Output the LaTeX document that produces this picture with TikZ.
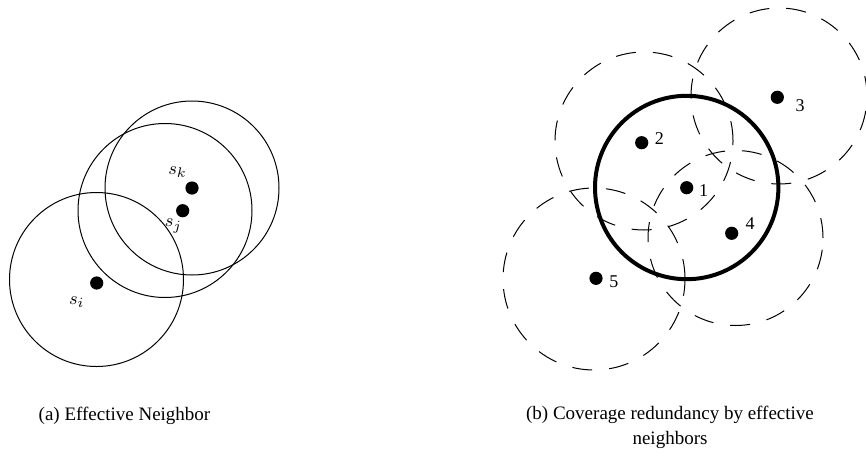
\documentclass[tikz,border=0pt]{standalone}
\usepackage{fontspec}
\setmainfont{Liberation Serif}
\usetikzlibrary{positioning}
\tikzset{
  sensor/.style={circle, fill=black, inner sep=0pt, minimum size=6.6pt},
  rangeln/.style={line width=0.5pt},
  nbrrange/.style={line width=0.5pt, dash pattern=on 10pt off 8.5pt},
  ownrange/.style={line width=2pt},
  idlbl/.style={font=\fontsize{9}{11}\selectfont, inner sep=0pt},
  mathlbl/.style={font=\fontsize{9.5}{12}\selectfont, inner sep=0pt},
  capt/.style={font=\fontsize{9.5}{12.5}\selectfont, inner sep=0pt, align=center},
}

\begin{document}
\begin{tikzpicture}[x=0.5pt,y=-0.5pt]
  \useasboundingbox (0,0) rectangle (866,455);
  % (a) sensing ranges of s_i, s_j, s_k
  \coordinate (ci) at (96.5,279.5);
  \coordinate (cj) at (165,210.5);
  \coordinate (ck) at (192,188);
  \foreach \c in {ci,cj,ck} \draw[rangeln] (\c) circle[radius=43.5pt];
  \node[sensor] (si) at (96.7,283) {};
  \node[sensor] (sj) at (182.7,210.7) {};
  \node[sensor] (sk) at (192,188) {};
  \node[mathlbl] (lsi) at (76.7,302) {$s_i$};
  \node[mathlbl] (lsj) at (173.3,226) {$s_j$};
  \node[mathlbl] (lsk) at (177.5,172) {$s_k$};
  % (b) neighbours' ranges, dashed
  \foreach \cx/\cy/\r in {644/141/44.5, 779/96/44, 735.5/238/43.75, 594/279/45.5}
    \draw[nbrrange] (\cx,\cy) circle[radius=\r pt];
  % own range of sensor 1
  \coordinate (c1) at (686.7,187.5);
  \draw[ownrange] (c1) circle[radius=45.85pt];
  % sensors and their ids
  \foreach \n/\x/\y/\lx/\ly in {1/686.7/187.7/703.7/190.5, 2/641.7/142.7/659.3/139,
      3/777.3/97.3/800/105.8, 4/731.7/233.3/750/224, 5/596/278.3/613.8/281.7} {
    \node[sensor] (n\n) at (\x,\y) {};
    \node[idlbl] (l\n) at (\lx,\ly) {\n};
  }
  % captions
  \node[capt, anchor=base] (capa) at (124.5,420.5) {(a) Effective Neighbor};
  \node[capt, anchor=base] (capb) at (670,444.5) {(b) Coverage redundancy by effective\\neighbors};
\end{tikzpicture}
\end{document}
